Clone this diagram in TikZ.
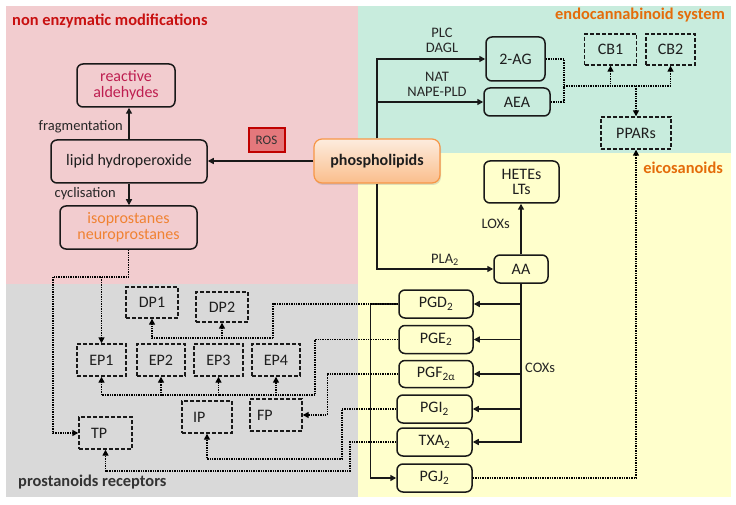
\documentclass[tikz,border=0pt]{standalone}
\usepackage{fontspec}
\setmainfont{Carlito}
\usetikzlibrary{arrows.meta,shadows}
\definecolor{pinkbg}{RGB}{242,204,207}
\definecolor{greenbg}{RGB}{200,236,221}
\definecolor{yellowbg}{RGB}{255,255,204}
\definecolor{graybg}{RGB}{217,217,217}
\definecolor{redtitle}{RGB}{200,16,16}
\definecolor{orangetitle}{RGB}{228,108,10}
\definecolor{aldcol}{RGB}{190,30,80}
\definecolor{isocol}{RGB}{240,130,50}
\definecolor{txt}{RGB}{30,30,30}
\definecolor{rosfill}{RGB}{228,120,124}
\definecolor{rosdraw}{RGB}{192,0,0}
\definecolor{phdraw}{RGB}{247,150,70}
\definecolor{phtop}{RGB}{253,236,222}
\definecolor{phbot}{RGB}{250,190,140}
\begin{document}
\begin{tikzpicture}[x=1pt,y=-1pt,
  >={Triangle[length=6pt,width=6pt]},
  solidbox/.style={draw=black!90, line width=1.5pt, rounded corners=6pt, text=txt,
    font=\fontsize{16}{15.5}\selectfont, align=center, inner sep=0pt},
  recbox/.style={draw=black!90, line width=1.4pt, dash pattern=on 4pt off 2pt, text=txt,
    font=\fontsize{16}{15.5}\selectfont, align=center, inner sep=0pt},
  phbox/.style={draw=phdraw, line width=1.2pt, rounded corners=8pt, top color=phtop, bottom color=phbot,
    drop shadow={opacity=0.25, shadow xshift=1pt, shadow yshift=-2pt},
    font=\fontsize{16}{18}\bfseries\selectfont, text=txt, inner sep=0pt,
    minimum width=126pt, minimum height=44pt},
  rosbox/.style={draw=rosdraw, line width=2pt, fill=rosfill, text=black!80,
    font=\fontsize{13}{14}\selectfont, inner sep=0pt, minimum width=36pt, minimum height=24pt},
  lbl/.style={font=\fontsize{14.5}{15}\selectfont, text=black!85, align=center, inner sep=0pt},
  title/.style={font=\fontsize{16.4}{18}\bfseries\selectfont, inner sep=0pt},
  conn/.style={line width=1.5pt, draw=black!90},
  dotc/.style={line width=1.4pt, draw=black, dash pattern=on 1.4pt off 1pt}
]
\useasboundingbox (0,0) rectangle (736,505);
% backgrounds
\fill[pinkbg] (6,6) rectangle (358,283.5);
\fill[greenbg] (358,6) rectangle (731,153);
\fill[yellowbg] (358,153) rectangle (731,497);
\fill[graybg] (6,283.5) rectangle (358,497);

% titles
\node[title, text=redtitle, anchor=west] (t1) at (12,21) {non enzymatic modifications};
\node[title, text=orangetitle, anchor=east] (t2) at (725,15.5) {endocannabinoid system};
\node[title, text=orangetitle, anchor=east] (t3) at (723,168) {eicosanoids};
\node[title, text=black!80, anchor=west] (t4) at (18,482) {prostanoids receptors};

% non enzymatic
\node[solidbox, minimum width=98pt, minimum height=43pt, text=aldcol] (ald) at (126,85.5) {reactive\\aldehydes};
\node[solidbox, minimum width=156pt, minimum height=43pt] (lip) at (129,161.5) {lipid hydroperoxide};
\node[solidbox, minimum width=137pt, minimum height=43pt, text=isocol] (iso) at (128.5,227.5) {isoprostanes\\neuroprostanes};
\node[rosbox] (ros) at (266.5,140.5) {ROS};
\node[phbox] (ph) at (377,161) {phospholipids};

\draw[conn,->] (ph.west) -- (ph.west -| lip.east);
\draw[conn,->] (lip.north) -- (lip.north |- ald.south);
\draw[conn,->] (lip.south) -- (lip.south |- iso.north);
\node[lbl, anchor=east] (lfrag) at (123,127) {fragmentation};
\node[lbl, anchor=east] (lcyc) at (116,194) {cyclisation};

% endocannabinoid
\node[solidbox, minimum width=59pt, minimum height=44pt] (ag) at (515.5,59) {2-AG};
\node[solidbox, minimum width=66pt, minimum height=28pt] (aea) at (517,102) {AEA};
\node[recbox, minimum width=52pt, minimum height=31pt] (cb1) at (610.5,49.5) {CB1};
\node[recbox, minimum width=49pt, minimum height=31pt] (cb2) at (670.5,49.5) {CB2};
\node[recbox, minimum width=70pt, minimum height=32pt] (ppar) at (636,133) {PPARs};

% eicosanoids
\node[solidbox, minimum width=75pt, minimum height=42pt] (hete) at (521.5,182) {HETEs\\LTs};
\node[solidbox, minimum width=54pt, minimum height=28pt] (aa) at (521,269) {AA};
\node[solidbox, minimum width=74pt, minimum height=28pt] (pgd) at (436,304) {PGD\textsubscript{2}};
\node[solidbox, minimum width=74pt, minimum height=28pt] (pge) at (436,339.5) {PGE\textsubscript{2}};
\node[solidbox, minimum width=74pt, minimum height=27pt] (pgf) at (436,374) {PGF\textsubscript{2α}};
\node[solidbox, minimum width=75pt, minimum height=28pt] (pgi) at (434.5,409) {PGI\textsubscript{2}};
\node[solidbox, minimum width=75pt, minimum height=28pt] (txa) at (434.5,442) {TXA\textsubscript{2}};
\node[solidbox, minimum width=75pt, minimum height=28pt] (pgj) at (434.5,478) {PGJ\textsubscript{2}};

\draw[conn,->] (ph.north) |- (ag.west);
\draw[conn,->] (ph.north) |- (aea.west);
\draw[conn,->] (ph.south) |- (aa.west);
\node[lbl] (lplc) at (442,40) {PLC\\DAGL};
\node[lbl] (lnat) at (437,84.5) {NAT\\NAPE-PLD};
\node[lbl] (lpla) at (445,260) {PLA\textsubscript{2}};

\draw[conn,->] (aa.north) -- (aa.north |- hete.south);
\node[lbl, anchor=east] (llox) at (510,224) {LOXs};

\draw[conn,->] (aa.south) |- (txa.east);
\draw[conn,->] (aa.south |- pgd.east) -- (pgd.east);
\draw[conn,->] (aa.south |- pge.east) -- (pge.east);
\draw[conn,->] (aa.south |- pgf.east) -- (pgf.east);
\draw[conn,->] (aa.south |- pgi.east) -- (pgi.east);
\node[lbl, anchor=west] (lcox) at (525,368) {COXs};

\draw[conn,->] (pgd.west) -- ++(-28,0) |- (pgj.west);

% endocannabinoid dotted
\coordinate (j1) at (564,86);
\draw[dotc] (ag.east) -| (j1);
\draw[dotc] (aea.east) -| (j1);
\draw[dotc,->] (j1) -| (cb1.south);
\draw[dotc,->] (j1) -| (cb2.south);
\draw[dotc,->] (j1) -| (ppar.north);
\draw[dotc,->] (pgj.east) -| (ppar.south);

% receptors
\node[recbox, minimum width=52pt, minimum height=31pt] (dp1) at (152,302.5) {DP1};
\node[recbox, minimum width=52pt, minimum height=30pt] (dp2) at (222,307) {DP2};
\node[recbox, minimum width=49pt, minimum height=32pt] (ep1) at (101.5,360) {EP1};
\node[recbox, minimum width=48pt, minimum height=32pt] (ep2) at (161,360) {EP2};
\node[recbox, minimum width=49pt, minimum height=32pt] (ep3) at (218.5,360) {EP3};
\node[recbox, minimum width=48pt, minimum height=32pt] (ep4) at (276,360) {EP4};
\node[recbox, minimum height=32pt, text width=28pt, inner xsep=11pt, align=left] (ip) at (207,417) {IP};
\node[recbox, minimum height=32pt, text width=38pt, inner xsep=7pt, align=left] (fp) at (276,415) {FP};
\node[recbox, minimum height=32pt, text width=29pt, inner xsep=12pt, align=left] (tp) at (105.5,433) {TP};

% isoprostanes dotted
\coordinate (k3) at (53,277);
\draw[dotc] (iso.south) |- (k3);
\draw[dotc,->] (k3) |- (tp.west);
\draw[dotc,->] (ep1.north |- k3) -- (ep1.north);

% PGD2
\coordinate (d1) at (273,338);
\draw[dotc] (pgd.west) -| (d1);
\draw[dotc,->] (d1) -| (dp1.south);
\draw[dotc,->] (d1) -| (dp2.south);
% PGE2
\coordinate (e1) at (315,395);
\draw[dotc] (pge.west) -| (e1);
\draw[dotc,->] (e1) -| (ep1.south);
\draw[dotc,->] (e1) -| (ep2.south);
\draw[dotc,->] (e1) -| (ep3.south);
\draw[dotc,->] (e1) -| (ep4.south);
% PGF2a
\draw[dotc,->] (pgf.west) -- ++(-71,0) |- (fp.east);
% PGI2
\coordinate (i1) at (342,459);
\draw[dotc,->] (pgi.west) -| (i1) -| (ip.south);
% TXA2
\coordinate (x1) at (350,471);
\draw[dotc,->] (txa.west) -| (x1) -| (tp.south);
\end{tikzpicture}
\end{document}
